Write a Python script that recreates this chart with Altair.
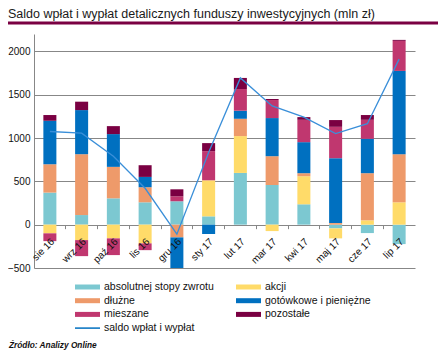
import altair as alt
import pandas as pd

months = ["sie 16", "wrz 16", "paź 16", "lis 16", "gru 16", "sty 17",
          "lut 17", "mar 17", "kwi 17", "maj 17", "cze 17", "lip 17"]
series = ["absolutnej stopy zwrotu", "akcji", "dłużne",
          "gotówkowe i pieniężne", "mieszane", "pozostałe"]

absolutnej = [370, 111, 304, 258, 270, 96, 597, 458, 235, -43, -97, -224]
akcji = [-100, -178, -158, -216, 0, 416, 425, -74, 324, -115, 50, 258]
dluzne = [327, 702, 363, 174, -147, 0, 200, 332, 35, 18, 544, 555]
gotowkowe = [502, 509, 378, 119, -371, -108, 93, 440, 358, 749, 397, 961]
mieszane = [-90, -185, -193, -78, 57, 336, 250, 208, 258, 362, 219, 347]
pozostale = [66, 97, 92, 135, 81, 93, 128, 12, 31, 78, 55, 11]
saldo = [1075, 1056, 790, 420, -110, 833, 1693, 1370, 1240, 1050, 1165, 1910]

colors = ["#7cc8d1", "#ffdb69", "#ee9a6a", "#0070c0", "#c0376f", "#7a0042"]
line_color = "#3a8fd9"
line_name = "saldo wpłat i wypłat"
title_text = "Saldo wpłat i wypłat detalicznych funduszy inwestycyjnych (mln zł)"
source_text = "Źródło: Analizy Online"
y_ticks = [-500, 0, 500, 1000, 1500, 2000]

rows = []
for si, (name, vals) in enumerate(zip(series, [absolutnej, akcji, dluzne, gotowkowe, mieszane, pozostale])):
    for m, v in zip(months, vals):
        rows.append({"miesiac": m, "seria": name, "wartosc": v, "kolejnosc": si})
df = pd.DataFrame(rows)
line_df = pd.DataFrame({"miesiac": months, "saldo": saldo})

W, H = 381, 234
ymin, ymax = -500, 2200
zero_offset = -H * (0 - ymin) / (ymax - ymin)
FONT = "Liberation Sans"
GRID = "#878787"
TXT = "#111111"

xscale = alt.Scale(type="band", domain=months, paddingInner=0, paddingOuter=0)
yscale = alt.Scale(domain=[ymin, ymax], nice=False, zero=False)

bars = alt.Chart(df).mark_bar(width=alt.RelativeBandSize(0.41), clip=True).encode(
    x=alt.X("miesiac:N", scale=xscale, sort=months,
            axis=alt.Axis(title=None, orient="bottom", offset=zero_offset, bandPosition=0,
                          domain=False, ticks=True, tickSize=4, tickColor=GRID,
                          labelAngle=315, labelAlign="right", labelBaseline="middle",
                          labelOffset=3, labelPadding=11, labelFontSize=10, labelFont=FONT,
                          labelColor=TXT, labelOverlap=False, zindex=1)),
    y=alt.Y("wartosc:Q", scale=yscale, stack="zero",
            axis=alt.Axis(title=None, values=y_ticks, format="d", grid=True, gridColor=GRID,
                          gridOpacity=1, domainColor=GRID, ticks=False, labelPadding=4,
                          labelFontSize=10, labelFont=FONT, labelColor=TXT, zindex=0)),
    fill=alt.Fill("seria:N", scale=alt.Scale(domain=series, range=colors), legend=None),
    order=alt.Order("kolejnosc:Q"),
)

line = alt.Chart(line_df).mark_line(strokeWidth=1.3, color=line_color).encode(
    x=alt.X("miesiac:N", scale=xscale, sort=months),
    y=alt.Y("saldo:Q", scale=yscale),
)

one = pd.DataFrame({"a": [0]})

title = alt.Chart(pd.DataFrame({"t": [title_text]})).mark_text(
    align="left", baseline="alphabetic", fontSize=12.5, font=FONT, color="#1a1a1a"
).encode(text="t:N", x=alt.value(-26), y=alt.value(-16))

title_rule = alt.Chart(one).mark_rule(color="#7a0042", strokeWidth=3).encode(
    x=alt.value(-26), x2=alt.value(W + 23), y=alt.value(-11))

source = alt.Chart(pd.DataFrame({"t": [source_text]})).mark_text(
    align="left", baseline="alphabetic", fontSize=8.3, font=FONT, fontStyle="italic",
    fontWeight="bold", color=TXT
).encode(text="t:N", x=alt.value(-25), y=alt.value(314))

# legend (drawn as guide marks below the plot)
LEG_X, LEG_Y, LEG_COL, LEG_ROW, SYM_W, SYM_H = 41, 253, 161, 13.7, 25, 5
legend_layers = []
for i, (name, col) in enumerate(zip(series, colors)):
    c, r = i % 2, i // 2
    x0 = LEG_X + c * LEG_COL
    yc = LEG_Y + r * LEG_ROW
    legend_layers.append(alt.Chart(one).mark_rect(color=col).encode(
        x=alt.value(x0), x2=alt.value(x0 + SYM_W),
        y=alt.value(yc - SYM_H / 2), y2=alt.value(yc + SYM_H / 2)))
    legend_layers.append(alt.Chart(pd.DataFrame({"t": [name]})).mark_text(
        align="left", baseline="middle", fontSize=10.5, font=FONT, color=TXT
    ).encode(text="t:N", x=alt.value(x0 + SYM_W + 4), y=alt.value(yc)))
yl = LEG_Y + 3 * LEG_ROW
legend_layers.append(alt.Chart(one).mark_rule(color="#0070c0", strokeWidth=1.5).encode(
    x=alt.value(LEG_X), x2=alt.value(LEG_X + SYM_W), y=alt.value(yl)))
legend_layers.append(alt.Chart(pd.DataFrame({"t": [line_name]})).mark_text(
    align="left", baseline="middle", fontSize=10.5, font=FONT, color=TXT
).encode(text="t:N", x=alt.value(LEG_X + SYM_W + 4), y=alt.value(yl)))

chart = alt.layer(bars, line, title_rule, title, source, *legend_layers).properties(
    width=W, height=H,
    autosize=alt.AutoSizeParams(type="none"),
    padding={"left": 26, "top": 26, "right": 23, "bottom": 82},
).configure_view(stroke=None)

chart.save("out.html", embed_options={"renderer": "svg", "actions": False})
